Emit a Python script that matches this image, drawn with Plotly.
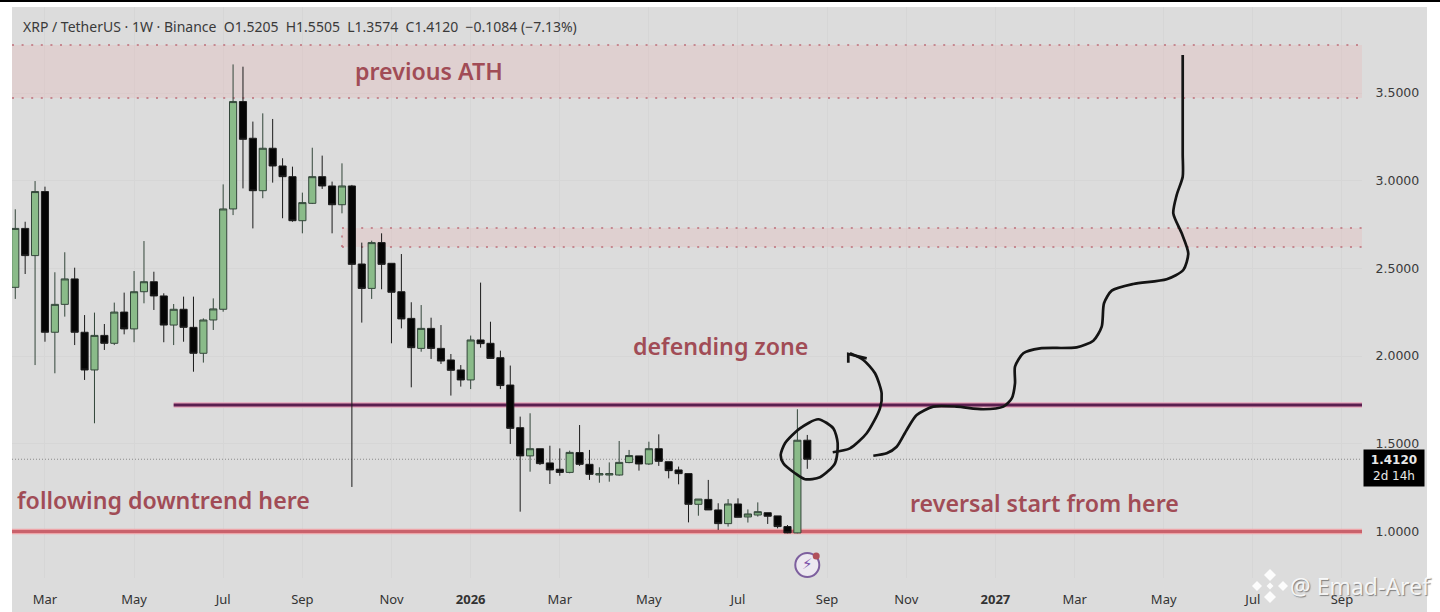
import pandas as pd
import plotly.graph_objects as go

# ---------- data ----------
first_week = pd.Timestamp("2025-02-10")

opens = [2.392,2.728,2.573,2.938,2.136,2.295,2.440,2.136,1.921,2.118,2.073,2.251,2.155,2.367,2.424,2.343,2.177,2.267,2.164,2.016,2.206,
         2.267,2.839,3.451,3.242,2.943,3.185,3.084,3.023,2.772,2.871,3.023,2.970,2.863,2.970,2.525,2.386,2.647,2.529,2.367,2.215,2.044,
         2.158,2.044,1.978,1.921,1.864,2.092,2.073,1.991,1.835,1.592,1.431,1.472,1.391,1.355,1.337,1.450,1.383,1.322,1.322,1.322,1.393,
         1.431,1.385,1.472,1.398,1.351,1.330,1.155,1.183,1.123,1.045,1.157,1.083,1.094,1.107,1.089,1.028,0.992,1.5205]
highs = [2.837,2.766,2.998,2.966,2.478,2.592,2.504,2.234,2.248,2.183,2.305,2.362,2.485,2.656,2.481,2.358,2.297,2.339,2.339,2.215,2.329,
         2.979,3.663,3.650,3.337,3.384,3.352,3.128,3.080,2.932,3.188,3.143,2.995,3.099,2.976,2.647,2.658,2.700,2.529,2.582,2.307,2.291,
         2.219,2.177,2.012,1.949,2.117,2.419,2.196,2.031,1.946,1.655,1.674,1.472,1.489,1.474,1.461,1.607,1.465,1.366,1.394,1.516,1.465,
         1.431,1.512,1.554,1.398,1.370,1.330,1.185,1.294,1.161,1.185,1.189,1.126,1.166,1.107,1.089,1.037,1.697,1.5505]
lows = [2.326,2.468,1.949,2.082,1.902,2.225,2.063,1.864,1.617,2.035,2.063,2.124,2.079,2.301,2.263,2.079,2.063,2.082,1.911,1.963,2.149,
        2.253,2.804,2.956,2.728,2.900,2.989,2.786,2.766,2.700,2.867,2.953,2.700,2.814,1.254,2.191,2.326,2.381,2.073,2.158,1.822,2.025,
        1.984,1.955,1.775,1.826,1.812,2.048,1.987,1.812,1.499,1.113,1.341,1.379,1.271,1.318,1.332,1.374,1.294,1.278,1.284,1.318,1.389,
        1.347,1.379,1.374,1.303,1.269,1.052,1.090,1.123,1.009,1.028,1.081,1.051,1.085,1.043,1.018,0.990,0.990,1.3574]
closes = [2.728,2.573,2.938,2.136,2.295,2.440,2.136,1.921,2.118,2.073,2.251,2.155,2.367,2.424,2.343,2.177,2.267,2.164,2.016,2.206,2.269,
          2.839,3.451,3.236,2.943,3.185,3.084,3.023,2.772,2.875,3.023,2.970,2.863,2.970,2.523,2.386,2.647,2.523,2.364,2.212,2.048,2.158,
          2.044,1.972,1.919,1.864,2.092,2.071,1.987,1.832,1.588,1.431,1.472,1.387,1.351,1.337,1.451,1.383,1.326,1.330,1.330,1.394,1.433,
          1.385,1.472,1.400,1.347,1.330,1.155,1.185,1.123,1.045,1.157,1.081,1.100,1.113,1.087,1.028,0.992,1.5205,1.4120]

tick_dates = ["2025-03-03","2025-05-05","2025-07-07","2025-09-01","2025-11-03","2025-12-29","2026-03-02","2026-05-04",
              "2026-07-06","2026-09-07","2026-11-02","2027-01-04","2027-03-01","2027-05-03","2027-07-05","2027-09-06"]
tick_labels = ["Mar","May","Jul","Sep","Nov","<b>2026</b>","Mar","May","Jul","Sep","Nov","<b>2027</b>","Mar","May","Jul","Sep"]
price_ticks = [1.0, 1.5, 2.0, 2.5, 3.0, 3.5]
price_labels = ["1.0000","1.5000","2.0000","2.5000","3.0000","3.5000"]

last_close = 1.4120
ath_zone = [3.4715, 3.7737]
mid_zone = [2.622, 2.730]
support_level = 1.0
purple_level = 1.721

# hand-drawn strokes: week offset from first_week, price
path_w = [86.67,88.02,89.03,90.04,91.05,92.73,95.09,97.78,99.80,100.65,100.98,100.98,101.82,103.51,107.21,108.89,109.74,109.97,
          110.75,112.93,116.30,117.98,118.48,117.82,116.97,117.31,117.92,117.92,117.92,117.92]
path_p = [1.432,1.446,1.483,1.579,1.664,1.712,1.712,1.697,1.712,1.759,1.845,1.940,2.016,2.044,2.050,2.088,2.168,2.301,
          2.373,2.411,2.438,2.491,2.586,2.700,2.814,2.918,3.023,3.150,3.400,3.717]
arrow_w = [82.57,84.31,86.0,87.34,87.51,86.84,85.66,84.31]
arrow_p = [1.452,1.474,1.560,1.702,1.788,1.902,1.978,2.016]
head_w = [84.14,84.14,86.0]
head_p = [1.962,2.012,1.987]
circle_w = [81.11,82.63,83.07,82.80,81.28,79.77,78.76,77.58,77.31,77.75,79.26,81.11]
circle_p = [1.640,1.588,1.503,1.389,1.309,1.298,1.332,1.389,1.436,1.503,1.588,1.640]

notes = [("previous ATH", 34.1, 3.625), ("following downtrend here", 0.0, 1.180),
         ("defending zone", 62.2, 2.058), ("reversal start from here", 90.2, 1.162)]

def week(w):
    return first_week + pd.Timedelta(days=7 * w)

dates = [week(i) for i in range(len(opens))]

BG = "#dcdcdc"
GRID = "#d6d6d6"
W, H = 1440, 612
L, R, T, B = 12, 78, 7, 34
PW, PH = W - L - R, H - T - B
def px(x): return (x - L) / PW
def py(y): return 1 - (y - T) / PH

fig = go.Figure()
fig.add_trace(go.Candlestick(
    x=dates, open=opens, high=highs, low=lows, close=closes,
    increasing=dict(line=dict(color="#33463a", width=1), fillcolor="#8abb89"),
    decreasing=dict(line=dict(color="#1c1c1c", width=1), fillcolor="#050505"),
    whiskerwidth=0, showlegend=False, hoverinfo="skip"))

stroke = dict(color="#141414", width=2.7, shape="spline", smoothing=0.7)
for xs, ys in ((path_w, path_p), (arrow_w, arrow_p), (circle_w, circle_p)):
    fig.add_trace(go.Scatter(x=[week(v) for v in xs], y=ys, mode="lines", line=stroke,
                             showlegend=False, hoverinfo="skip"))
fig.add_trace(go.Scatter(x=[week(v) for v in head_w], y=head_p, mode="lines",
                         line=dict(color="#141414", width=2.7), showlegend=False, hoverinfo="skip"))

# icon under the last bars
fig.add_trace(go.Scatter(x=[week(80)], y=[0.809], mode="markers+text", text=["⚡"],
                         textposition="middle center", textfont=dict(size=15, color="#7a4fa8", family="DejaVu Sans"),
                         marker=dict(size=24, color="rgba(240,235,245,0.8)", line=dict(color="#7d5f9e", width=2)),
                         showlegend=False, hoverinfo="skip"))
fig.add_trace(go.Scatter(x=[week(80.9)], y=[0.860], mode="markers",
                         marker=dict(size=7, color="#b0505a"), showlegend=False, hoverinfo="skip"))

x0, x1 = week(-0.33), week(136.03)
dots = dict(color="rgba(190,110,120,0.75)", width=2, dash="2px 7.6px")
shapes = [
    # panel and top edge
    dict(type="rect", xref="paper", yref="paper", x0=0, x1=px(1427), y0=py(612), y1=1, fillcolor=BG, line_width=0, layer="below"),
    dict(type="rect", xref="paper", yref="paper", x0=px(0), x1=px(1440), y0=py(2), y1=py(0), fillcolor="#000000", line_width=0),
    # zones
    dict(type="rect", x0=x0, x1=x1, y0=ath_zone[0], y1=ath_zone[1], fillcolor="rgba(235,170,170,0.24)", line_width=0, layer="between"),
    dict(type="line", x0=x0, x1=x1, y0=ath_zone[0], y1=ath_zone[0], line=dots, layer="between"),
    dict(type="line", x0=x0, x1=x1, y0=ath_zone[1], y1=ath_zone[1], line=dots, layer="between"),
    dict(type="rect", x0=week(33), x1=x1, y0=mid_zone[0], y1=mid_zone[1], fillcolor="rgba(235,170,170,0.24)", line_width=0, layer="between"),
    dict(type="line", x0=week(33), x1=x1, y0=mid_zone[0], y1=mid_zone[0], line=dots, layer="between"),
    dict(type="line", x0=week(33), x1=x1, y0=mid_zone[1], y1=mid_zone[1], line=dots, layer="between"),
    dict(type="line", x0=week(33), x1=week(33), y0=mid_zone[0], y1=mid_zone[1], line=dots, layer="between"),
    # levels
    dict(type="line", x0=x0, x1=x1, y0=last_close, y1=last_close, line=dict(color="#8a8a8a", width=1, dash="1px 2px"), layer="between"),
    dict(type="line", x0=week(16), x1=x1, y0=purple_level, y1=purple_level, line=dict(color="#e8a8bc", width=5.5), layer="between"),
    dict(type="line", x0=week(16), x1=x1, y0=purple_level, y1=purple_level, line=dict(color="#5b1f50", width=3), layer="between"),
    dict(type="line", x0=x0, x1=x1, y0=support_level, y1=support_level, line=dict(color="#eea4a8", width=5.5), layer="between"),
    dict(type="line", x0=x0, x1=x1, y0=support_level, y1=support_level, line=dict(color="#c9626c", width=3), layer="between"),
]

# watermark logo: four diamonds round a small centre one
for cx, cy, r in ((1270, 575, 6), (1257, 586, 5), (1283, 586, 5), (1270, 597, 6), (1270, 586, 3.5)):
    path = (f"M {px(cx - r)} {py(cy)} L {px(cx)} {py(cy - r)} "
            f"L {px(cx + r)} {py(cy)} L {px(cx)} {py(cy + r)} Z")
    shapes.append(dict(type="path", xref="paper", yref="paper", path=path,
                       fillcolor="rgba(255,255,255,0.9)", line_width=0))

annotations = [dict(x=week(w), y=p, text=t, showarrow=False, xanchor="left", yanchor="middle",
                    font=dict(family="Noto Sans", size=23.2, color="#a14c56", weight=600))
               for t, w, p in notes]
annotations += [
    dict(xref="paper", yref="paper", x=px(21), y=py(26), xanchor="left", yanchor="middle", showarrow=False,
         text="XRP / TetherUS · 1W · Binance  O1.5205  H1.5505  L1.3574  C1.4120  −0.1084 (−7.13%)",
         font=dict(family="Noto Sans", size=14, color="#3a3a3a")),
    dict(xref="paper", yref="y", x=px(1363), y=last_close - 0.052, xanchor="left", yanchor="middle", showarrow=False,
         text="<b>1.4120</b><br>2d 14h", align="center", bgcolor="#000000", borderpad=3, width=54,
         font=dict(family="DejaVu Sans", size=12, color="#e8e8e8")),
    dict(xref="paper", yref="paper", x=px(1433), y=py(586), xanchor="right", yanchor="middle", showarrow=False,
         text="@ Emad-Aref", font=dict(family="Noto Sans", size=23, color="rgba(255,255,255,0.9)", shadow="1px 1px 1px #777")),
]

fig.update_layout(
    width=W, height=H, margin=dict(l=L, r=R, t=T, b=B, pad=0, autoexpand=False), autosize=False,
    paper_bgcolor="#ffffff", plot_bgcolor=BG, boxgap=0.28, boxgroupgap=0, showlegend=False,
    shapes=shapes, annotations=annotations,
    xaxis=dict(type="date", range=[x0, x1], tickmode="array", tickvals=tick_dates, ticktext=tick_labels, automargin=False,
               showgrid=True, gridcolor=GRID, gridwidth=1, zeroline=False, showline=False,
               ticks="outside", ticklen=9, tickcolor="rgba(0,0,0,0)",
               rangeslider=dict(visible=False), tickfont=dict(family="Noto Sans", size=13, color="#333333")),
    yaxis=dict(side="right", range=[0.7349, 3.9903], tickmode="array", tickvals=price_ticks, ticktext=price_labels, automargin=False,
               showgrid=True, gridcolor=GRID, gridwidth=1, zeroline=False, showline=False,
               ticks="outside", ticklen=10, tickcolor="rgba(0,0,0,0)",
               tickfont=dict(family="DejaVu Sans", size=12.5, color="#3a3a3a")),
)

fig.write_html("out.html", config={"displayModeBar": False},
               post_script="document.body.style.margin='0';")
